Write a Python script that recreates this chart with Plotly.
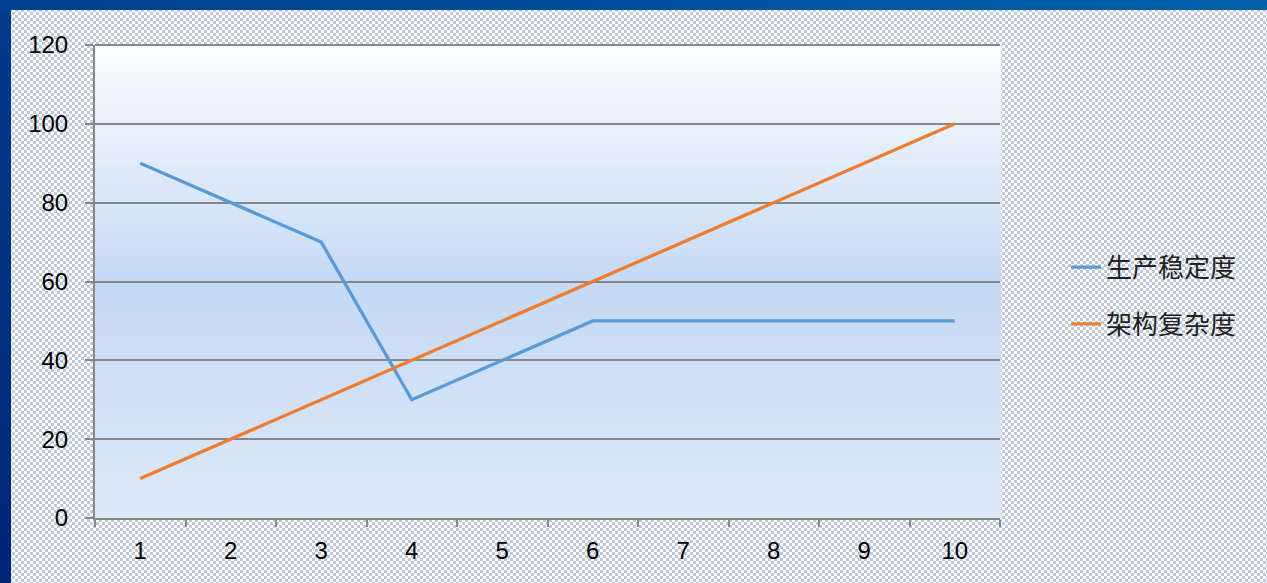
import base64
import struct
import zlib

import numpy as np
import plotly.graph_objects as go

# ---- data ----
categories = ["1", "2", "3", "4", "5", "6", "7", "8", "9", "10"]
stability = [90, 80, 70, 30, 40, 50, 50, 50, 50, 50]          # 生产稳定度
complexity = [10, 20, 30, 40, 50, 60, 70, 80, 90, 100]        # 架构复杂度
series_names = ["生产稳定度", "架构复杂度"]
y_ticks = [0, 20, 40, 60, 80, 100, 120]

# ---- layout geometry ----
W, H = 1267, 583
ML, MR, MT, MB = 95, 267, 45, 65
PW, PH = W - ML - MR, H - MT - MB


def make_background():
    yy, xx = np.mgrid[0:H, 0:W]
    img = np.full((H, W, 3), 255, dtype=np.float64)
    checker = ((xx // 3 + yy // 3) % 2) == 0
    img[checker] = [192, 201, 219]
    # plot area gradient
    t = (yy - MT) / PH
    top = np.array([253, 254, 255.0])
    mid = np.array([198, 218, 245.0])
    bot = np.array([222, 233, 249.0])
    g = np.where(t[..., None] < 0.5,
                 top + (mid - top) * np.clip(t / 0.5, 0, 1)[..., None],
                 mid + (bot - mid) * np.clip((t - 0.5) / 0.5, 0, 1)[..., None])
    inside = (xx >= ML) & (xx <= ML + PW) & (yy >= MT) & (yy <= MT + PH)
    img[inside] = g[inside]
    # left band
    lt = yy / H
    left = np.stack([0 * lt, 60 - 22 * lt, 142 - 24 * lt], axis=-1)
    lm = xx < 11
    img[lm] = left[lm]
    # top band
    tt = xx / W
    topb = np.stack([0 * tt, 62 + 36 * tt, 142 + 30 * tt], axis=-1)
    tm = yy < 10
    img[tm] = topb[tm]
    arr = img.astype(np.uint8)
    raw = b"".join(b"\x00" + arr[r].tobytes() for r in range(H))

    def chunk(tag, data):
        c = struct.pack(">I", len(data)) + tag + data
        return c + struct.pack(">I", zlib.crc32(tag + data) & 0xFFFFFFFF)

    png = b"\x89PNG\r\n\x1a\n" + chunk(b"IHDR", struct.pack(">IIBBBBB", W, H, 8, 2, 0, 0, 0)) \
        + chunk(b"IDAT", zlib.compress(raw, 9)) + chunk(b"IEND", b"")
    return "data:image/png;base64," + base64.b64encode(png).decode()


fig = go.Figure()
fig.add_trace(go.Scatter(x=categories, y=stability, mode="lines", name=series_names[0],
                         legendgroup="a", line=dict(color="#5b9bd5", width=3.3)))
fig.add_trace(go.Scatter(x=categories, y=complexity, mode="lines", name=series_names[1],
                         legendgroup="b", line=dict(color="#ed7d31", width=3.3)))

grid = "#878787"
# top border gridline (value 120 sits on the plot edge)
fig.add_shape(type="line", xref="paper", yref="paper", x0=0, x1=1, y0=1, y1=1,
              line=dict(color=grid, width=2), layer="above")

fig.update_layout(
    width=W, height=H,
    margin=dict(l=ML, r=MR, t=MT, b=MB, pad=0),
    paper_bgcolor="rgba(0,0,0,0)",
    plot_bgcolor="rgba(0,0,0,0)",
    font=dict(family="Liberation Sans, Arial", size=24, color="#000000"),
    images=[dict(source=make_background(), xref="paper", yref="paper",
                 x=-ML / PW, y=1 + MT / PH, sizex=W / PW, sizey=H / PH,
                 xanchor="left", yanchor="top", sizing="stretch", layer="below")],
    legend=dict(x=1.073, y=0.47, xanchor="left", yanchor="middle",
                bgcolor="rgba(0,0,0,0)", tracegroupgap=20,
                traceorder="grouped",
                font=dict(family="Noto Sans CJK SC", size=26, color="#222222")),
    xaxis=dict(type="category", tickson="boundaries", showgrid=False,
               showline=True, linecolor=grid, linewidth=2,
               ticks="outside", ticklen=7, tickwidth=2, tickcolor=grid,
               ticklabelstandoff=10, range=[-0.5, 9.5]),
    yaxis=dict(range=[0, 120], tickvals=y_ticks, showgrid=True, gridcolor=grid,
               gridwidth=2, zeroline=False, showline=True, linecolor=grid,
               linewidth=2, ticks="outside", ticklen=8, tickwidth=2,
               tickcolor=grid, ticklabelstandoff=12),
)

fig.write_html("out.html")
